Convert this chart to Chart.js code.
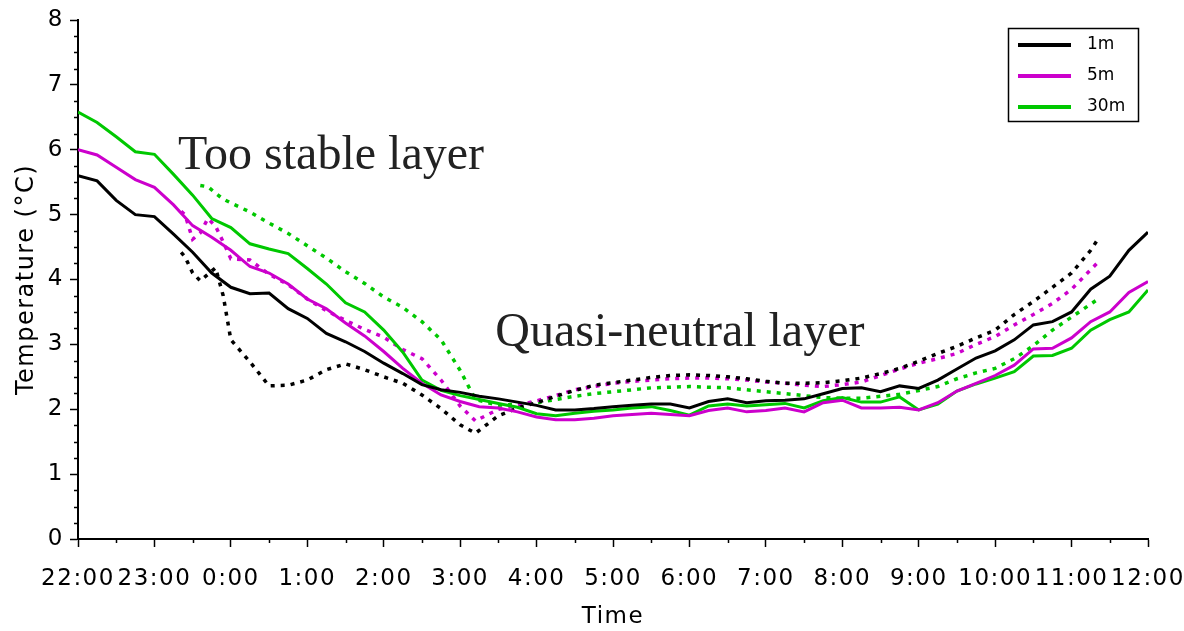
<!DOCTYPE html>
<html>
<head>
<meta charset="utf-8">
<script src="https://cdn.jsdelivr.net/npm/chart.js@4.4.1/dist/chart.umd.min.js"></script>
<style>
  html, body { margin: 0; padding: 0; background: #fff; }
</style>
</head>
<body>
<canvas id="chart" width="1184" height="631"></canvas>
<script>
// --- data (hours after 22:00) ---
const timeLabels = ['22:00','23:00','0:00','1:00','2:00','3:00','4:00','5:00','6:00','7:00','8:00','9:00','10:00','11:00','12:00'];

const obsTime = [0,0.25,0.5,0.75,1,1.25,1.5,1.75,2,2.25,2.5,2.75,3,3.25,3.5,3.75,4,4.25,4.5,4.75,
  5,5.25,5.5,5.75,6,6.25,6.5,6.75,7,7.25,7.5,7.75,8,8.25,8.5,8.75,9,9.25,9.5,9.75,
  10,10.25,10.5,10.75,11,11.25,11.5,11.75,12,12.25,12.5,12.75,13,13.25,13.5,13.75,14];
const obs1m = [5.60,5.52,5.22,5.00,4.97,4.70,4.42,4.10,3.88,3.78,3.79,3.55,3.40,3.17,3.04,2.89,2.71,2.55,2.38,2.30,
  2.26,2.20,2.16,2.11,2.06,1.99,1.99,2.01,2.04,2.06,2.08,2.08,2.02,2.12,2.16,2.10,2.13,2.14,2.16,2.24,
  2.32,2.33,2.27,2.36,2.32,2.45,2.62,2.79,2.90,3.07,3.30,3.35,3.50,3.85,4.05,4.45,4.73];
const obs5m = [6.00,5.92,5.73,5.54,5.42,5.15,4.83,4.65,4.45,4.20,4.10,3.93,3.70,3.55,3.33,3.13,2.89,2.63,2.40,2.22,
  2.12,2.04,2.02,1.96,1.88,1.84,1.84,1.86,1.90,1.92,1.94,1.92,1.90,1.98,2.02,1.96,1.98,2.02,1.96,2.10,
  2.14,2.02,2.02,2.03,1.99,2.10,2.28,2.40,2.52,2.68,2.93,2.94,3.10,3.35,3.50,3.80,3.97];
const obs30m = [6.58,6.42,6.20,5.97,5.93,5.62,5.30,4.94,4.80,4.55,4.47,4.40,4.17,3.93,3.64,3.50,3.22,2.88,2.45,2.29,
  2.21,2.15,2.09,2.03,1.93,1.90,1.94,1.97,1.99,2.02,2.04,1.98,1.91,2.05,2.08,2.05,2.07,2.09,2.02,2.13,
  2.18,2.11,2.11,2.19,1.99,2.08,2.28,2.39,2.48,2.58,2.82,2.83,2.94,3.22,3.38,3.50,3.84];

const modTime = [1.35,1.4,1.5,1.6,1.7,1.8,1.9,2.0,2.25,2.5,2.75,3.0,3.25,3.5,3.75,4.0,4.25,4.5,4.75,5.0,
  5.2,5.5,5.75,6.0,6.25,6.5,6.75,7.0,7.25,7.5,7.75,8.0,8.25,8.5,8.75,9.0,9.25,9.5,9.75,10.0,
  10.25,10.5,10.75,11.0,11.25,11.5,11.75,12.0,12.25,12.5,12.75,13.0,13.25,13.35];
const mod1m = [4.42,4.35,4.10,3.98,4.08,4.18,3.75,3.07,2.73,2.36,2.37,2.45,2.61,2.70,2.61,2.50,2.40,2.22,2.01,1.76,
  1.63,1.90,2.02,2.10,2.20,2.29,2.37,2.41,2.45,2.49,2.52,2.53,2.52,2.50,2.47,2.43,2.40,2.40,2.41,2.44,
  2.48,2.55,2.63,2.74,2.86,2.97,3.10,3.22,3.46,3.66,3.88,4.10,4.45,4.63];
const mod5m = [5.05,5.00,4.62,4.72,4.94,4.82,4.58,4.32,4.30,4.08,3.92,3.70,3.52,3.37,3.23,3.11,2.92,2.78,2.45,2.05,
  1.82,2.00,2.06,2.13,2.21,2.30,2.35,2.40,2.43,2.45,2.47,2.48,2.48,2.47,2.45,2.42,2.40,2.37,2.35,2.38,
  2.42,2.52,2.62,2.71,2.78,2.86,3.00,3.12,3.30,3.46,3.63,3.85,4.15,4.27];
const mod30m = [null,null,null,5.45,5.43,5.33,5.24,5.18,5.04,4.87,4.71,4.52,4.33,4.12,3.94,3.73,3.57,3.35,3.07,2.60,
  2.15,2.06,2.08,2.10,2.15,2.20,2.24,2.27,2.30,2.33,2.34,2.35,2.34,2.33,2.30,2.27,2.24,2.21,2.18,2.17,
  2.17,2.20,2.23,2.29,2.35,2.47,2.56,2.63,2.78,2.98,3.22,3.42,3.62,3.70];

const seriesNames = ['1m', '5m', '30m'];
const seriesColors = ['#000000', '#cc00cc', '#00c800'];
const noteTexts = ['Too stable layer', 'Quasi-neutral layer'];

Chart.defaults.font.family = 'DejaVu Sans';
Chart.defaults.color = '#000';

function pts(xs, ys) {
  return xs.map((t, i) => ({ x: t, y: ys[i] }));
}

const solidSets = [obs1m, obs5m, obs30m].map((arr, i) => ({
  label: seriesNames[i], data: pts(obsTime, arr), borderColor: seriesColors[i],
  borderWidth: 3, pointRadius: 0, tension: 0, order: i, legend: true
}));
const dottedSets = [mod1m, mod5m, mod30m].map((arr, i) => ({
  label: seriesNames[i] + ' model', data: pts(modTime, arr), borderColor: seriesColors[i],
  borderWidth: 3.5, borderDash: [4, 6], pointRadius: 0, tension: 0, order: 3 + i, spanGaps: false
}));

// the axis text in the figure is a bit spaced out
const spacing = {
  id: 'spacing',
  beforeUpdate(chart) { chart.ctx.letterSpacing = '1.5px'; },
  beforeDraw(chart) { chart.ctx.letterSpacing = '1.5px'; }
};

// minor ticks, the in-plot legend and the two annotations
const extras = {
  id: 'extras',
  afterDraw(chart) {
    const { ctx, chartArea: a, scales: { x, y } } = chart;
    ctx.save();
    ctx.letterSpacing = '0px';
    ctx.strokeStyle = '#000';
    ctx.lineWidth = 1.5;
    ctx.beginPath();
    for (let v = 0.25; v < 8; v += 0.25) {
      if (Math.abs(v - Math.round(v)) < 0.01) continue;
      const py = Math.round(y.getPixelForValue(v)) + 0.5;
      ctx.moveTo(a.left - 4, py); ctx.lineTo(a.left, py);
    }
    for (let v = 0.5; v < 14; v += 1) {
      const px = Math.round(x.getPixelForValue(v)) + 0.5;
      ctx.moveTo(px, a.bottom); ctx.lineTo(px, a.bottom + 4);
    }
    ctx.stroke();

    // notes
    ctx.fillStyle = '#222';
    ctx.font = '48px "Liberation Serif"';
    ctx.textBaseline = 'alphabetic';
    ctx.fillText(noteTexts[0], x.getPixelForValue(1.31), y.getPixelForValue(5.7));
    ctx.fillText(noteTexts[1], x.getPixelForValue(5.46), y.getPixelForValue(2.98));

    // legend box
    const items = chart.data.datasets.filter(d => d.legend);
    const bw = 130, bh = 93;
    const bx = a.right - 140, by = a.top + 8;
    ctx.fillStyle = '#fff';
    ctx.fillRect(bx, by, bw, bh);
    ctx.lineWidth = 1.5;
    ctx.strokeStyle = '#000';
    ctx.strokeRect(bx + 0.5, by + 0.5, bw, bh);
    ctx.font = '17px "DejaVu Sans"';
    ctx.textBaseline = 'middle';
    items.forEach((d, i) => {
      const ly = by + 17 + i * 31;
      ctx.strokeStyle = d.borderColor;
      ctx.lineWidth = 4;
      ctx.beginPath();
      ctx.moveTo(bx + 10, ly); ctx.lineTo(bx + 63, ly);
      ctx.stroke();
      ctx.fillStyle = '#000';
      ctx.fillText(d.label, bx + 79, ly);
    });
    ctx.restore();
  }
};

new Chart(document.getElementById('chart'), {
  type: 'line',
  data: { datasets: solidSets.concat(dottedSets) },
  options: {
    responsive: false,
    animation: false,
    layout: { padding: { left: 0, right: 36, top: 20, bottom: 0 } },
    plugins: { legend: { display: false }, tooltip: { enabled: false } },
    scales: {
      x: {
        type: 'linear', min: 0, max: 14,
        afterFit: s => { s.height = 92; s.paddingLeft = 0; s.paddingRight = 0; },
        ticks: {
          stepSize: 1, autoSkip: false, maxRotation: 0, padding: 18,
          font: { size: 23 }, color: '#000',
          callback: v => timeLabels[Math.round(v)]
        },
        grid: { drawOnChartArea: false, tickLength: 8, tickColor: '#000', tickWidth: 1.5 },
        border: { display: true, color: '#000', width: 2 },
        title: { display: true, text: 'Time', font: { size: 23 }, color: '#000', padding: { top: 0, bottom: 0 } }
      },
      y: {
        min: 0, max: 8,
        afterFit: s => { s.width = 78; },
        ticks: { stepSize: 1, padding: 6, font: { size: 23 }, color: '#000' },
        grid: { drawOnChartArea: false, tickLength: 8, tickColor: '#000', tickWidth: 1.5 },
        border: { display: true, color: '#000', width: 2 },
        title: { display: true, text: 'Temperature (°C)', font: { size: 24 }, color: '#000', padding: { top: 12, bottom: 0 } }
      }
    }
  },
  plugins: [spacing, extras]
});
</script>
</body>
</html>
